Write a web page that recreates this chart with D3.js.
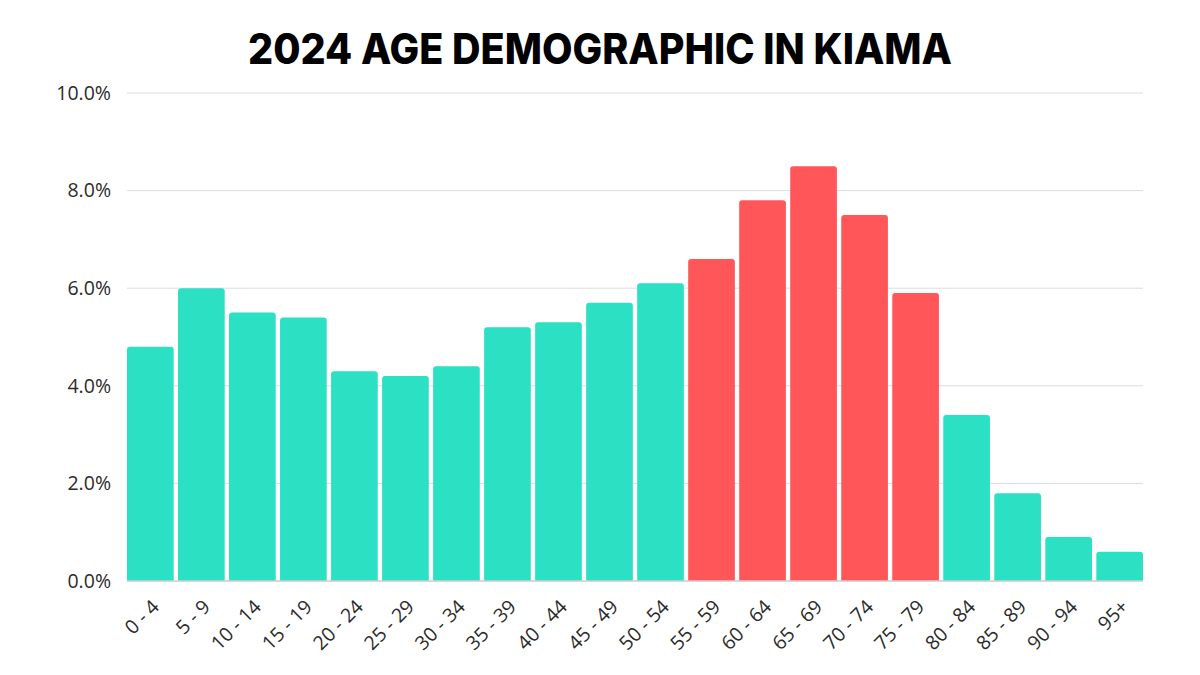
<!DOCTYPE html>
<html>
<head>
<meta charset="utf-8">
<script src="https://cdn.jsdelivr.net/npm/d3@7"></script>
<style>
  html, body { margin: 0; padding: 0; background: #fff; }
  svg { display: block; }
</style>
</head>
<body>
<svg id="chart" width="1200" height="675"></svg>
<script>
const categories = ["0 - 4","5 - 9","10 - 14","15 - 19","20 - 24","25 - 29","30 - 34","35 - 39","40 - 44","45 - 49","50 - 54","55 - 59","60 - 64","65 - 69","70 - 74","75 - 79","80 - 84","85 - 89","90 - 94","95+"];
const values = [4.8, 6.0, 5.5, 5.4, 4.3, 4.2, 4.4, 5.2, 5.3, 5.7, 6.1, 6.6, 7.8, 8.5, 7.5, 5.9, 3.4, 1.8, 0.9, 0.6];
const highlighted = ["55 - 59","60 - 64","65 - 69","70 - 74","75 - 79"];
const yTicks = [0, 2, 4, 6, 8, 10];
const title = "2024 AGE DEMOGRAPHIC IN KIAMA";

const svg = d3.select("#chart");
const margin = {left: 127, right: 57, top: 93, bottom: 94};
const W = 1200, H = 675;

const x = d3.scaleBand().domain(categories).range([margin.left, W - margin.right]).paddingInner(0.085).paddingOuter(0.0);
const y = d3.scaleLinear().domain([0, 10]).range([H - margin.bottom, margin.top]);

// gridlines
svg.append("g").selectAll("line").data(yTicks).join("line")
  .attr("x1", margin.left).attr("x2", W - margin.right)
  .attr("y1", d => y(d)).attr("y2", d => y(d))
  .attr("stroke", "#dcdcdc").attr("stroke-width", 1);

// bars with rounded top corners
const r = 3;
function barPath(d, i) {
  const x0 = x(categories[i]), w = x.bandwidth();
  const y0 = y(0), y1 = y(d);
  return `M${x0},${y0} L${x0},${y1 + r} Q${x0},${y1} ${x0 + r},${y1} L${x0 + w - r},${y1} Q${x0 + w},${y1} ${x0 + w},${y1 + r} L${x0 + w},${y0} Z`;
}
svg.append("g").selectAll("path").data(values).join("path")
  .attr("d", barPath)
  .attr("fill", (d, i) => highlighted.includes(categories[i]) ? "#FF5659" : "#2CE0C4");

// baseline
svg.append("line")
  .attr("x1", margin.left).attr("x2", W - margin.right)
  .attr("y1", y(0)).attr("y2", y(0))
  .attr("stroke", "#cfcfcf").attr("stroke-width", 1.5);

// y axis labels
const yAxis = d3.axisLeft(y).tickValues(yTicks).tickFormat(d => d3.format(".1f")(d) + "%").tickSize(0).tickPadding(16);
const yg = svg.append("g").attr("transform", `translate(${margin.left},0)`).call(yAxis);
yg.select(".domain").remove();
yg.selectAll("text").attr("font-family", "Open Sans, sans-serif").attr("font-size", 19.5).attr("fill", "#2b2b2b");

// x axis labels
const xAxis = d3.axisBottom(x).tickSize(0).tickPadding(0);
const xg = svg.append("g").attr("transform", `translate(0,${y(0)})`).call(xAxis);
xg.select(".domain").remove();
xg.selectAll("text")
  .attr("font-family", "Open Sans, sans-serif").attr("font-size", 19.5).attr("fill", "#2b2b2b")
  .attr("text-anchor", "end")
  .attr("dy", null).attr("y", 0)
  .attr("transform", "translate(10,27) rotate(-45)");

// title
svg.append("text").text(title)
  .attr("x", 600).attr("y", 64).attr("text-anchor", "middle")
  .attr("font-family", "Inter, sans-serif").attr("font-weight", 800).attr("font-size", 42)
  .attr("textLength", 704).attr("lengthAdjust", "spacingAndGlyphs")
  .attr("fill", "#000");
</script>
</body>
</html>
